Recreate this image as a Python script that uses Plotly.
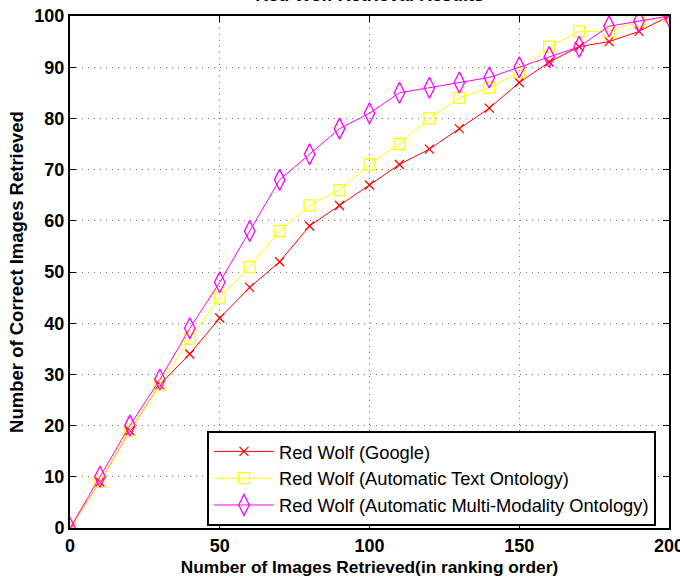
import plotly.graph_objects as go

# Retrieval counts at every 10 images retrieved
images_retrieved = [0, 10, 20, 30, 40, 50, 60, 70, 80, 90, 100,
                    110, 120, 130, 140, 150, 160, 170, 180, 190, 200]
google = [0, 9, 19, 28, 34, 41, 47, 52, 59, 63, 67,
          71, 74, 78, 82, 87, 91, 94, 95, 97, 100]
text_ontology = [0, 9, 19, 28, 37, 45, 51, 58, 63, 66, 71,
                 75, 80, 84, 86, 89, 94, 97, 97, 99, 100]
multi_modality = [0, 10, 20, 29, 39, 48, 58, 68, 73, 78, 81,
                  85, 86, 87, 88, 90, 92, 94, 98, 99, 100]

x_ticks = [0, 50, 100, 150, 200]
y_ticks = list(range(0, 101, 10))

FONT = "Liberation Sans"

fig = go.Figure()
fig.add_trace(go.Scatter(
    x=images_retrieved, y=google, name="Red Wolf (Google)",
    mode="lines+markers",
    line=dict(color="#ff0000", width=1),
    marker=dict(symbol="x-thin-open", size=9, color="#ff0000",
                line=dict(color="#ff0000", width=1.3)),
))
fig.add_trace(go.Scatter(
    x=images_retrieved, y=text_ontology, name="Red Wolf (Automatic Text Ontology)",
    mode="lines+markers",
    line=dict(color="#ffff00", width=1),
    marker=dict(symbol="square-open", size=11, color="#ffff00",
                line=dict(color="#ffff00", width=1.3)),
))
fig.add_trace(go.Scatter(
    x=images_retrieved, y=multi_modality, name="Red Wolf (Automatic Multi-Modality Ontology)",
    mode="lines+markers",
    line=dict(color="#ff00ff", width=1),
    marker=dict(symbol="diamond-tall-open", size=15, color="#ff00ff",
                line=dict(color="#ff00ff", width=1.3)),
))

axis_common = dict(
    showline=True, linecolor="black", linewidth=2, mirror="ticks",
    ticks="inside", ticklen=6, tickcolor="black", tickwidth=1,
    showgrid=True, gridcolor="#777777", griddash="1px,5px", gridwidth=1,
    zeroline=False, automargin=False, ticklabeloverflow="allow",
    tickfont=dict(family=FONT, size=18, color="black", weight="bold"),
)

fig.update_layout(
    width=680, height=585,
    margin=dict(l=70, r=11, t=16, b=57),
    paper_bgcolor="white", plot_bgcolor="white",
    title=dict(text="Red Wolf Retrieval Results", x=0.5435, xanchor="center",
               y=1 - 1 / 585, yanchor="bottom",
               font=dict(family=FONT, size=18, color="black", weight="bold")),
    xaxis=dict(axis_common, range=[0, 200], tickvals=x_ticks,
               title=dict(text="Number of Images Retrieved(in ranking order)", standoff=6,
                          font=dict(family=FONT, size=17.3, color="black", weight="bold"))),
    yaxis=dict(axis_common, range=[0, 100], tickvals=y_ticks,
               title=dict(text="Number of Correct Images Retrieved", standoff=6,
                          font=dict(family=FONT, size=18.5, color="black", weight="bold"))),
    legend=dict(x=(207 - 70) / 599, y=(528 - 431) / 512, xanchor="left", yanchor="top",
                bgcolor="white", bordercolor="black", borderwidth=2,
                font=dict(family=FONT, size=18.3, color="black"),
                itemwidth=60, tracegroupgap=0),
    showlegend=True,
)

fig.write_html("out.html")
